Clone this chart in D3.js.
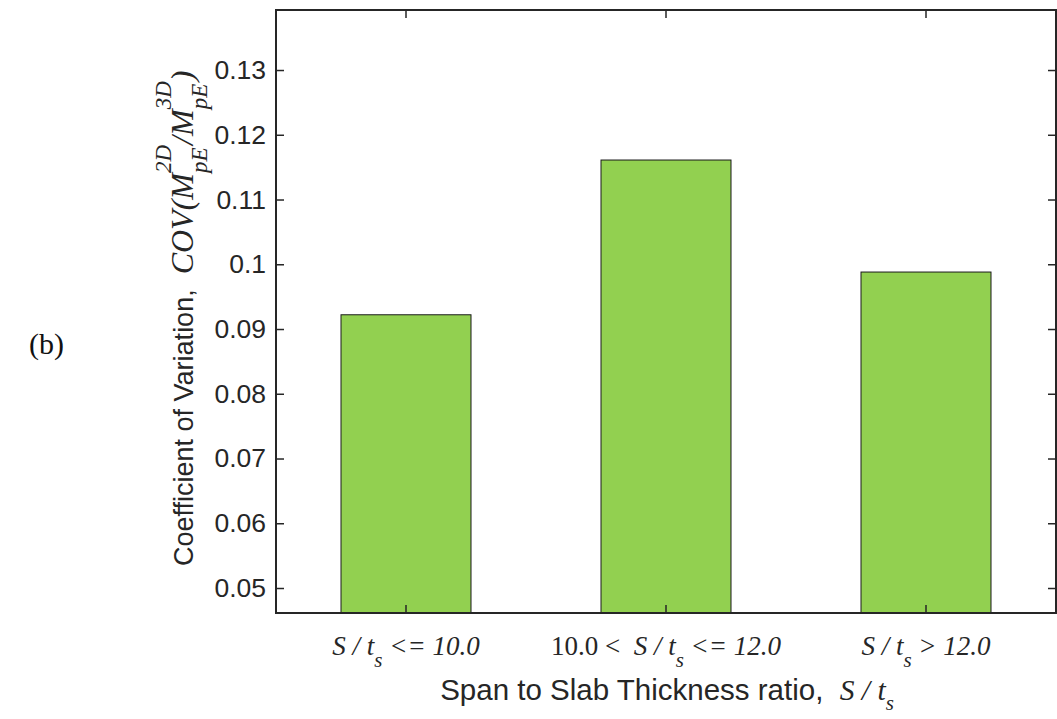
<!DOCTYPE html>
<html>
<head>
<meta charset="utf-8">
<script src="https://cdn.jsdelivr.net/npm/d3@7"></script>
<style>
  html, body { margin: 0; padding: 0; background: #fff; }
  svg { display: block; }
  text { white-space: pre; }
</style>
</head>
<body>
<svg id="chart" width="1057" height="719"></svg>
<script>
// ---------------- data ----------------
const categories = ["S/t_s <= 10.0", "10.0 < S/t_s <= 12.0", "S/t_s > 12.0"];
const covValues = [0.0922, 0.1161, 0.0988];
const yTicks = [0.05, 0.06, 0.07, 0.08, 0.09, 0.10, 0.11, 0.12, 0.13];
const yTickLabels = ["0.05", "0.06", "0.07", "0.08", "0.09", "0.1", "0.11", "0.12", "0.13"];
const yDomain = [0.04614, 0.13927];

// rich-text label pieces for each category
const categoryLabels = [
  [{t: "S / t", it: true}, {t: "s", it: true, sub: true}, {t: " <= 10.0", it: true}],
  [{t: "10.0 <  ", it: false}, {t: "S / t", it: true}, {t: "s", it: true, sub: true}, {t: " <= 12.0", it: true}],
  [{t: "S / t", it: true}, {t: "s", it: true, sub: true}, {t: " > 12.0", it: true}]
];

// ---------------- layout ----------------
const ink = "#262626";
const sans = "'Liberation Sans', Arial, Helvetica, sans-serif";
const serif = "'Liberation Serif', 'Times New Roman', Times, serif";
const plot = {left: 276, right: 1056, top: 10, bottom: 613};

const svg = d3.select("#chart");

const x = d3.scaleBand().domain(categories).range([plot.left, plot.right]).paddingInner(0.5).paddingOuter(0.25);
const y = d3.scaleLinear().domain(yDomain).range([plot.bottom, plot.top]);

// bars
svg.append("g").selectAll("rect").data(categories).join("rect")
  .attr("x", d => x(d))
  .attr("width", x.bandwidth())
  .attr("y", (d, i) => y(covValues[i]))
  .attr("height", (d, i) => plot.bottom - y(covValues[i]))
  .attr("fill", "#92D050")
  .attr("stroke", "#1a1a1a")
  .attr("stroke-width", 1);

// axes (ticks inward)
const tickLen = 8;
const yAxisL = d3.axisLeft(y).tickValues(yTicks).tickSize(-tickLen).tickFormat((d, i) => yTickLabels[i]).tickPadding(10);
const yAxisR = d3.axisRight(y).tickValues(yTicks).tickSize(-tickLen).tickFormat("");
const xAxisB = d3.axisBottom(x).tickSize(-tickLen).tickFormat("");
const xAxisT = d3.axisTop(x).tickSize(-tickLen).tickFormat("");

function styleAxis(g) {
  g.select(".domain").remove();
  g.selectAll(".tick line").attr("stroke", ink).attr("stroke-width", 1.5);
  g.selectAll(".tick text").attr("fill", ink).attr("font-family", sans).attr("font-size", 26.5);
}
svg.append("g").attr("transform", `translate(${plot.left},0)`).call(yAxisL).call(styleAxis);
svg.append("g").attr("transform", `translate(${plot.right},0)`).call(yAxisR).call(styleAxis);
svg.append("g").attr("transform", `translate(0,${plot.bottom})`).call(xAxisB).call(styleAxis);
svg.append("g").attr("transform", `translate(0,${plot.top})`).call(xAxisT).call(styleAxis);

// box
svg.append("rect")
  .attr("x", plot.left).attr("y", plot.top)
  .attr("width", plot.right - plot.left).attr("height", plot.bottom - plot.top)
  .attr("fill", "none").attr("stroke", ink).attr("stroke-width", 2);

// ---------------- rich text helper ----------------
function rich(parent, segs, transform, anchor) {
  const g = parent.append("g").attr("transform", transform);
  let cursor = 0, prevStart = 0;
  const nodes = [];
  segs.forEach(s => {
    const start = s.stack ? prevStart : cursor;
    const t = g.append("text")
      .attr("x", start)
      .attr("y", s.shift || 0)
      .attr("font-family", s.serif ? serif : sans)
      .attr("font-style", s.it ? "italic" : "normal")
      .attr("font-size", s.size)
      .attr("fill", ink)
      .text(s.t);
    const w = t.node().getComputedTextLength();
    prevStart = start;
    cursor = Math.max(cursor, start + w);
    nodes.push(t);
  });
  const off = anchor === "middle" ? -cursor / 2 : anchor === "end" ? -cursor : 0;
  nodes.forEach(n => n.attr("x", +n.attr("x") + off));
  return g;
}

// category labels
categoryLabels.forEach((segs, i) => {
  const cx = x(categories[i]) + x.bandwidth() / 2;
  const pieces = segs.map(s => ({
    t: s.t, it: s.it, serif: true,
    size: s.sub ? 21 : 27,
    shift: s.sub ? 12 : 0
  }));
  rich(svg, pieces, `translate(${cx},655)`, "middle");
});

// x-axis title
rich(svg, [
  {t: "Span to Slab Thickness ratio,  ", size: 29.5},
  {t: "S / t", serif: true, it: true, size: 29.5},
  {t: "s", serif: true, it: true, size: 21, shift: 10}
], "translate(667,700)", "middle");

// y-axis title
rich(svg, [
  {t: "Coefficient of Variation,  ", size: 27},
  {t: "COV(M", serif: true, it: true, size: 32},
  {t: "2D", serif: true, it: true, size: 23, shift: -22},
  {t: "pE", serif: true, it: true, size: 23, shift: 14, stack: true},
  {t: "/M", serif: true, it: true, size: 32},
  {t: "3D", serif: true, it: true, size: 23, shift: -22},
  {t: "pE", serif: true, it: true, size: 23, shift: 14, stack: true},
  {t: ")", serif: true, it: true, size: 32}
], "translate(193,566) rotate(-90)", "start");

// panel tag
svg.append("text")
  .attr("x", 29).attr("y", 354)
  .attr("font-family", serif).attr("font-size", 30).attr("fill", "#111")
  .text("(b)");
</script>
</body>
</html>
